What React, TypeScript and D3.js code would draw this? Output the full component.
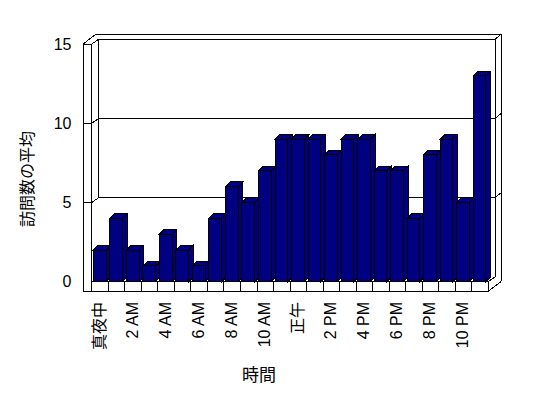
import React from 'react';
import * as d3 from 'd3';

const hours = [
  '真夜中', '1 AM', '2 AM', '3 AM', '4 AM', '5 AM', '6 AM', '7 AM', '8 AM', '9 AM', '10 AM', '11 AM',
  '正午', '1 PM', '2 PM', '3 PM', '4 PM', '5 PM', '6 PM', '7 PM', '8 PM', '9 PM', '10 PM', '11 PM',
];
const visits = [2, 4, 2, 1, 3, 2, 1, 4, 6, 5, 7, 9, 9, 9, 8, 9, 9, 7, 7, 4, 8, 9, 5, 13];
const yTicks = [0, 5, 10, 15];
const yTitle = '訪問数の平均';
const xTitle = '時間';

const W = 548;
const H = 398;
const X0 = 91.8;
const X1 = 488.3;
const DX = 7; // depth offset of back plane
const DY = 5;
const WX = 6; // back wall thickness
const WY = 5;
const LW = 8.8; // left wall thickness
const FT = 9.6; // floor thickness
const BD = 4.7; // bar depth
const BARPAD = 1.5;
const BARW = 12.7;
const FONT = '"Liberation Sans", "Noto Sans CJK JP", sans-serif';

export default function App() {
  const x = d3.scaleBand<string>().domain(hours).range([X0, X1]).padding(0);
  const y = d3.scaleLinear().domain([0, 15]).range([281.7, 44.1]);
  const Y0 = y(0);
  const YT = y(15);
  const YB = Y0 + FT;
  const line = (x1: number, y1: number, x2: number, y2: number, key: string) => (
    <line key={key} x1={x1} y1={y1} x2={x2} y2={y2} stroke="#000" strokeWidth={1} />
  );

  const walls: React.ReactNode[] = [];
  walls.push(line(X0 - LW + DX + WX, YT - DY - WY, X1 + DX + WX, YT - DY - WY, 'to'));
  walls.push(line(X0 + DX, YT - DY, X1 + DX, YT - DY, 'ti'));
  walls.push(line(X1 + DX, YT - DY, X1 + DX + WX, YT - DY - WY, 'trd'));
  walls.push(line(X1 + DX + WX, YT - DY - WY, X1 + DX + WX, Y0 + FT - DY - WY, 'ro'));
  walls.push(line(X1 + DX, YT - DY, X1 + DX, Y0 - DY, 'ri'));
  walls.push(line(X0 - LW, YT, X0 - LW, YB, 'lo'));
  walls.push(line(X0, YT, X0, YB, 'li'));
  walls.push(line(X0 - LW, YT, X0, YT, 'lt'));
  walls.push(line(X0 - LW, YT, X0 - LW + DX + WX, YT - DY - WY, 'ltd1'));
  walls.push(line(X0, YT, X0 + DX, YT - DY, 'ltd2'));
  walls.push(line(X0 + DX, YT - DY, X0 + DX, y(5) - DY, 'corner'));
  yTicks.filter((t) => t > 0 && t < 15).forEach((t) => {
    const yy = y(t);
    walls.push(line(X0 - LW, yy, X0, yy, `gl${t}`));
    walls.push(line(X0, yy, X0 + DX, yy - DY, `gd${t}`));
    walls.push(line(X0 + DX, yy - DY, X1 + DX, yy - DY, `gb${t}`));
    walls.push(line(X1 + DX, yy - DY, X1 + DX + WX, yy - DY - WY, `gr${t}`));
  });
  walls.push(line(X0, Y0, X1, Y0, 'ft'));
  walls.push(line(X0 - LW, YB, X1, YB, 'fb'));
  hours.forEach((h) => walls.push(line(x(h)!, Y0, x(h)!, YB, `fd${h}`)));
  walls.push(line(X1, Y0, X1, YB, 'fdr'));
  walls.push(line(X1, Y0, X1 + DX, Y0 - DY, 'frt'));
  walls.push(line(X1, YB, X1 + DX + WX, YB - DY - WY, 'frb'));

  const bars = hours.map((h, i) => {
    const xl = x(h)! + BARPAD;
    const xr = xl + BARW;
    const yt = y(visits[i]);
    const fill = '#000080';
    return (
      <g key={h} stroke="#000" strokeWidth={1} strokeLinejoin="miter">
        <polygon points={`${xr},${yt} ${xr + BD},${yt - BD} ${xr + BD},${Y0 - BD} ${xr},${Y0}`} fill={fill} />
        <polygon points={`${xl},${yt} ${xl + BD},${yt - BD} ${xr + BD},${yt - BD} ${xr},${yt}`} fill={fill} />
        <rect x={xl} y={yt} width={BARW} height={Y0 - yt} fill={fill} />
      </g>
    );
  });

  return (
    <svg
      width={W}
      height={H}
      style={{ position: 'absolute', left: 0, top: 0, background: '#fff' }}
      fontFamily={FONT}
    >
      <rect x={0} y={0} width={W} height={H} fill="#fff" />
      <g shapeRendering="crispEdges">{walls}</g>
      <g shapeRendering="crispEdges">{bars}</g>
      {yTicks.map((t) => (
        <text key={t} x={71.5} y={y(t)} textAnchor="end" dominantBaseline="central" fontSize={16} fill="#000">
          {t}
        </text>
      ))}
      {hours.map((h, i) =>
        i % 2 === 0 ? (
          <text
            key={h}
            transform={`translate(${x(h)! + x.bandwidth() / 2 - 1},${302}) rotate(-90)`}
            textAnchor="end"
            dominantBaseline="central"
            fontSize={16}
            fill="#000"
          >
            {h}
          </text>
        ) : null
      )}
      <text
        transform={`translate(27,179) rotate(-90)`}
        textAnchor="middle"
        dominantBaseline="central"
        fontSize={16}
        fill="#000"
      >
        {yTitle}
      </text>
      <text x={259} y={375} textAnchor="middle" dominantBaseline="central" fontSize={17} fill="#000">
        {xTitle}
      </text>
    </svg>
  );
}
